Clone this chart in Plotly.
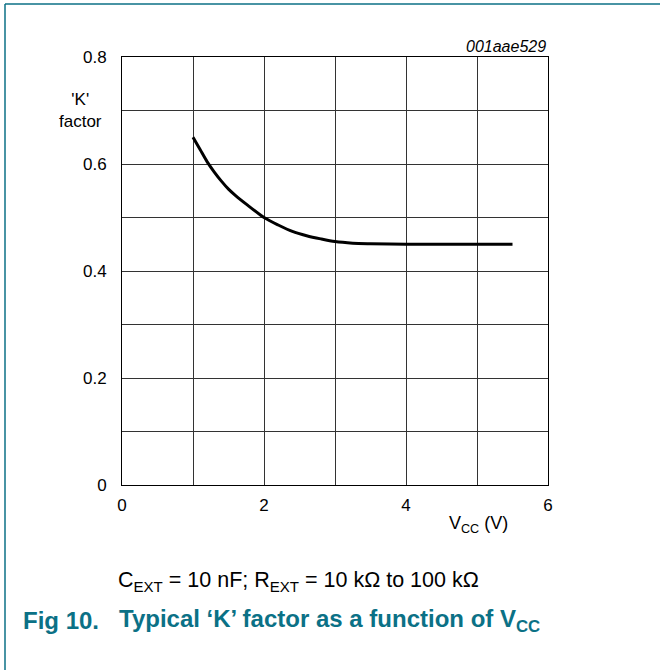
import plotly.graph_objects as go

# Data
vcc = [1.0, 1.1, 1.2, 1.3, 1.4, 1.5, 1.6, 1.75, 2.0, 2.2, 2.4, 2.6, 2.8, 3.0, 3.25, 3.5, 4.0, 4.5, 5.0, 5.5]
k_factor = [0.650, 0.627, 0.604, 0.585, 0.568, 0.553, 0.541, 0.525, 0.500, 0.486, 0.474,
            0.466, 0.460, 0.455, 0.452, 0.451, 0.450, 0.450, 0.450, 0.450]

x_ticks = [0, 1, 2, 3, 4, 5, 6]
x_ticktext = ["0", "", "2", "", "4", "", "6"]
y_ticks = [0, 0.1, 0.2, 0.3, 0.4, 0.5, 0.6, 0.7, 0.8]
y_ticktext = ["0", "", "0.2", "", "0.4", "", "0.6", "", "0.8"]

W, H = 660, 670
L, R, T, B = 122, 548, 57, 485

def px(x):
    return (x - L) / (R - L)

def py(y):
    return (B - y) / (B - T)

FONT = "Liberation Sans, Arial, Helvetica, sans-serif"
TEAL = "#0b7186"

fig = go.Figure()
fig.add_trace(go.Scatter(x=vcc, y=k_factor, mode="lines",
                         line=dict(color="black", width=3, shape="spline", smoothing=0.8),
                         hoverinfo="skip", showlegend=False))

axis_common = dict(showgrid=True, gridcolor="#333333", gridwidth=1,
                   showline=True, linecolor="black", linewidth=1, mirror=True,
                   zeroline=False, ticks="", tickfont=dict(family=FONT, size=17, color="black"))

fig.update_layout(
    width=W, height=H,
    margin=dict(l=L, r=W - R, t=T, b=H - B, pad=0),
    paper_bgcolor="white", plot_bgcolor="white",
    font=dict(family=FONT, color="black"),
    xaxis=dict(range=[0, 6], tickvals=x_ticks, ticktext=x_ticktext, **axis_common),
    yaxis=dict(range=[0, 0.8], tickvals=y_ticks, ticktext=y_ticktext, **axis_common),
)
fig.update_xaxes(ticklabelstandoff=5)
fig.update_yaxes(ticklabelstandoff=11)

ann = [
    dict(x=px(80), y=py(111), text="'K'<br>factor", showarrow=False,
         font=dict(size=17, family=FONT), xanchor="center", yanchor="middle"),
    dict(x=1.0, y=py(46), text="<i>001aae529</i>", showarrow=False,
         font=dict(size=16, family=FONT), xanchor="right", yanchor="middle"),
    dict(x=px(478), y=py(524), text="V<sub>CC</sub> (V)", showarrow=False,
         font=dict(size=18, family=FONT), xanchor="center", yanchor="middle"),
    dict(x=px(116), y=py(581), text="C<sub>EXT</sub> = 10 nF; R<sub>EXT</sub> = 10 kΩ to 100 kΩ",
         showarrow=False, font=dict(size=21.5, family=FONT), xanchor="left", yanchor="middle"),
    dict(x=px(21), y=py(620), text="<b>Fig 10.</b>", showarrow=False,
         font=dict(size=24, family=FONT, color=TEAL), xanchor="left", yanchor="middle"),
    dict(x=px(117), y=py(620), text="<b>Typical ‘K’ factor as a function of V<sub>CC</sub></b>",
         showarrow=False, font=dict(size=24, family=FONT, color=TEAL),
         xanchor="left", yanchor="middle"),
]
for a in ann:
    a.update(xref="paper", yref="paper")
fig.update_layout(annotations=ann)

fig.update_layout(shapes=[
    dict(type="line", xref="paper", yref="paper", x0=px(5), x1=px(661), y0=py(4), y1=py(4),
         line=dict(color=TEAL, width=1.5)),
    dict(type="line", xref="paper", yref="paper", x0=px(5), x1=px(5), y0=py(4), y1=py(671),
         line=dict(color=TEAL, width=1.5)),
])

fig.write_html("out.html", config={"displayModeBar": False},
               post_script="document.body.style.margin='0';document.body.style.overflow='hidden';")
